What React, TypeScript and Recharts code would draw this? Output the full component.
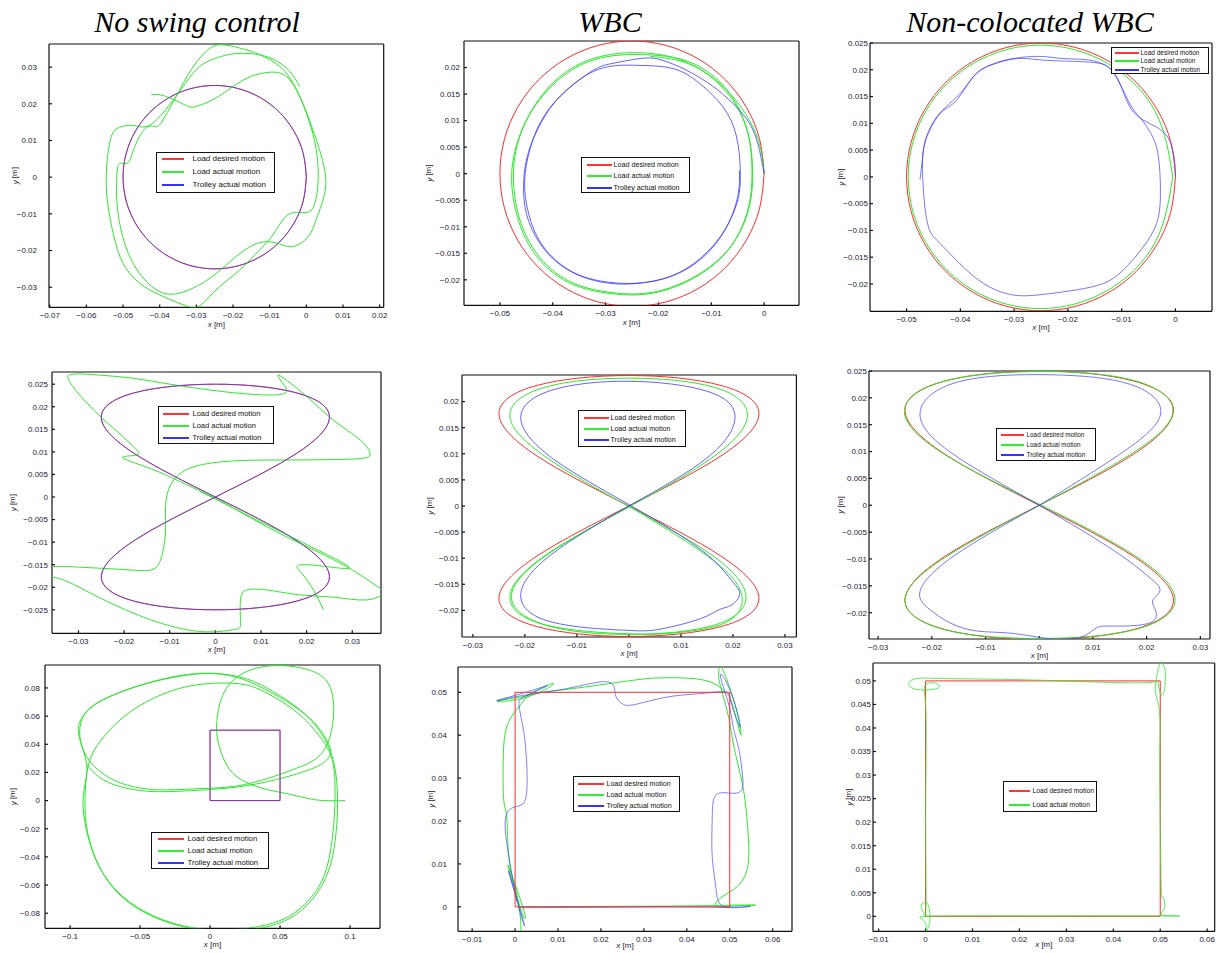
import { ScatterChart, Scatter, XAxis, YAxis, Legend } from "recharts";

type Pt = [number, number];

const titles = ["No swing control", "WBC", "Non-colocated WBC"];
const seriesNames = ["Load desired motion", "Load actual motion", "Trolley actual motion"];

// desired paths
const circleDesired: Pt[] = [
  [0, 0], [-0.00085, 0.00647], [-0.00335, 0.0125], [-0.00732, 0.01768], [-0.0125, 0.02165], [-0.01853, 0.02415],
  [-0.025, 0.025], [-0.03147, 0.02415], [-0.0375, 0.02165], [-0.04268, 0.01768], [-0.04665, 0.0125], [-0.04915, 0.00647],
  [-0.05, 0], [-0.04915, -0.00647], [-0.04665, -0.0125], [-0.04268, -0.01768], [-0.0375, -0.02165], [-0.03147, -0.02415],
  [-0.025, -0.025], [-0.01853, -0.02415], [-0.0125, -0.02165], [-0.00732, -0.01768], [-0.00335, -0.0125], [-0.00085, -0.00647],
  [0, 0],
];
const eightDesired: Pt[] = [
  [0, 0], [0.0177, 0.0096], [0.025, 0.0177], [0.0177, 0.0231], [0, 0.025], [-0.0177, 0.0231], [-0.025, 0.0177],
  [-0.0177, 0.0096], [0, 0], [0.0177, -0.0096], [0.025, -0.0177], [0.0177, -0.0231], [0, -0.025], [-0.0177, -0.0231],
  [-0.025, -0.0177], [-0.0177, -0.0096], [0, 0],
];
const squareDesired: Pt[] = [[0, 0], [0.05, 0], [0.05, 0.05], [0, 0.05], [0, 0]];

// row 1: circle
const p1Load: Pt[] = [
  [-0.0423, 0.0225], [-0.0382, 0.022], [-0.0327, 0.0195], [-0.03, 0.0193], [-0.0255, 0.0211], [-0.02, 0.0247],
  [-0.015, 0.0275], [-0.01, 0.0286], [-0.0055, 0.0275], [-0.0018, 0.022], [0.0018, 0.0129], [0.005, 0.002],
  [0.0048, -0.0053], [0.0027, -0.0116], [0.0005, -0.0162], [-0.0036, -0.0189], [-0.0073, -0.0182], [-0.0109, -0.0176],
  [-0.0145, -0.0185], [-0.0191, -0.0216], [-0.0245, -0.0262], [-0.03, -0.0298], [-0.0355, -0.0318], [-0.04, -0.0312],
  [-0.0445, -0.0275], [-0.0486, -0.0207], [-0.0511, -0.0116], [-0.0518, -0.0035], [-0.0515, 0.0025], [-0.0505, 0.0038],
  [-0.0486, 0.004], [-0.0473, 0.007], [-0.0455, 0.0111], [-0.0432, 0.0138], [-0.0409, 0.0138], [-0.0391, 0.0156],
  [-0.0355, 0.022], [-0.0314, 0.0293], [-0.0273, 0.0343], [-0.0236, 0.0361], [-0.0182, 0.0352], [-0.0127, 0.0334],
  [-0.0073, 0.0302], [-0.0036, 0.0256], [0, 0.0175], [0.0027, 0.0075], [0.0032, -0.0016], [0.0023, -0.0071],
  [0.0009, -0.0094], [-0.0018, -0.0096], [-0.0041, -0.0098], [-0.0064, -0.0116], [-0.0091, -0.0157], [-0.0127, -0.0198],
  [-0.0182, -0.0253], [-0.0236, -0.0298], [-0.0273, -0.0335], [-0.03, -0.0355], [-0.0336, -0.0348], [-0.04, -0.0321],
  [-0.0455, -0.0289], [-0.05, -0.0235], [-0.0527, -0.0153], [-0.0544, -0.0053], [-0.0544, 0.0038], [-0.0532, 0.0111],
  [-0.0509, 0.0136], [-0.0473, 0.0141], [-0.0436, 0.0138], [-0.0391, 0.0175], [-0.0336, 0.0247], [-0.0291, 0.0302],
  [-0.0245, 0.0325], [-0.02, 0.0336], [-0.0145, 0.0336], [-0.0091, 0.0322], [-0.0045, 0.0288], [-0.0018, 0.0247],
];
const p2Load: Pt[] = [
  [0, 0], [-0.001, 0.006], [-0.004, 0.012], [-0.009, 0.0175], [-0.016, 0.0215], [-0.024, 0.0228], [-0.032, 0.0218],
  [-0.039, 0.018], [-0.0445, 0.011], [-0.0476, 0.002], [-0.047, -0.007], [-0.0435, -0.015], [-0.037, -0.0205],
  [-0.029, -0.0226], [-0.021, -0.0225], [-0.013, -0.0195], [-0.0065, -0.014], [-0.003, -0.0065], [-0.0023, 0.001],
  [-0.0033, 0.0085], [-0.0072, 0.016], [-0.014, 0.021], [-0.022, 0.0224], [-0.03, 0.022], [-0.0375, 0.0188],
  [-0.044, 0.0118], [-0.0472, 0.003], [-0.0468, -0.0065], [-0.0432, -0.0148], [-0.0368, -0.0203], [-0.0288, -0.0224],
  [-0.0208, -0.0223], [-0.0128, -0.0192], [-0.0063, -0.0137], [-0.0028, -0.0062], [-0.0022, 0.0012], [-0.0034, 0.0088],
  [-0.0075, 0.0158], [-0.014, 0.0206], [-0.0215, 0.0221],
];
const p2Trolley: Pt[] = [
  [0, 0], [-0.0021, 0.0082], [-0.0059, 0.0132], [-0.0096, 0.0164], [-0.0147, 0.0195], [-0.0197, 0.0215],
  [-0.0235, 0.0217], [-0.0286, 0.0208], [-0.0323, 0.0195], [-0.0374, 0.0157], [-0.0412, 0.0113], [-0.0443, 0.005],
  [-0.0455, -0.0013], [-0.045, -0.0075], [-0.0424, -0.0132], [-0.038, -0.0176], [-0.0323, -0.0201], [-0.026, -0.0208],
  [-0.0191, -0.0198], [-0.0134, -0.017], [-0.0084, -0.012], [-0.0052, -0.0057], [-0.0045, 0], [-0.0052, 0.0069],
  [-0.0078, 0.0126], [-0.0122, 0.017], [-0.0172, 0.0198], [-0.0235, 0.0204], [-0.0286, 0.0203], [-0.0336, 0.0186],
  [-0.0387, 0.0145], [-0.0425, 0.0094], [-0.0447, 0.0031], [-0.0453, -0.0031], [-0.044, -0.0094], [-0.0412, -0.0145],
  [-0.0361, -0.0186], [-0.0298, -0.0204], [-0.0235, -0.0206], [-0.0172, -0.0192], [-0.0115, -0.0157], [-0.0071, -0.0101],
  [-0.0049, -0.0038], [-0.0047, 0.0006],
];
const p3Load: Pt[] = [
  [-0.0005, 0], [-0.0038, 0.0123], [-0.0128, 0.0213], [-0.0251, 0.0246], [-0.0374, 0.0213], [-0.0464, 0.0123],
  [-0.0497, 0], [-0.0464, -0.0123], [-0.0374, -0.0213], [-0.0251, -0.0246], [-0.0128, -0.0213], [-0.0038, -0.0123],
  [-0.0005, 0],
];
const p3Trolley: Pt[] = [
  [0, 0], [-0.0001, 0.0025], [-0.0011, 0.0068], [-0.0035, 0.0093], [-0.006, 0.0106], [-0.0085, 0.0131],
  [-0.0103, 0.0174], [-0.0122, 0.0203], [-0.0147, 0.0213], [-0.0196, 0.0216], [-0.0246, 0.0218], [-0.0277, 0.0221],
  [-0.0308, 0.0219], [-0.0345, 0.0208], [-0.0376, 0.0187], [-0.0407, 0.0143], [-0.0435, 0.0121], [-0.0457, 0.0087],
  [-0.0469, 0.005], [-0.047, 0], [-0.0466, -0.0056], [-0.0457, -0.01], [-0.0438, -0.0124], [-0.0401, -0.0162],
  [-0.0357, -0.0199], [-0.0314, -0.0218], [-0.0277, -0.0222], [-0.0234, -0.0218], [-0.0184, -0.0211], [-0.0134, -0.0199],
  [-0.0097, -0.0174], [-0.006, -0.0131], [-0.0035, -0.0087], [-0.0028, -0.004], [-0.0029, 0.001], [-0.0035, 0.0055],
  [-0.0048, 0.0085], [-0.0065, 0.011], [-0.008, 0.0128], [-0.0095, 0.0157], [-0.011, 0.0186], [-0.0125, 0.0205],
  [-0.016, 0.0218], [-0.0209, 0.0221], [-0.0252, 0.0225], [-0.0302, 0.0221], [-0.0339, 0.0211], [-0.037, 0.0193],
  [-0.0395, 0.0162], [-0.042, 0.0137], [-0.0444, 0.0112], [-0.0463, 0.0075], [-0.047, 0.0037], [-0.0475, -0.0005],
];

// row 2: figure eight
const p4Load: Pt[] = [
  [0.0237, -0.025], [0.0215, -0.0206], [0.019, -0.017], [0.0179, -0.0154], [0.0201, -0.015], [0.0259, -0.0156],
  [0.0292, -0.0154], [0.0223, -0.0117], [0.015, -0.008], [0.0077, -0.0044], [0, -0.0003], [-0.0077, 0.0034],
  [-0.0142, 0.0063], [-0.0203, 0.0087], [-0.0172, 0.0093], [-0.0179, 0.0111], [-0.0215, 0.0145], [-0.0259, 0.0185],
  [-0.0303, 0.0233], [-0.0321, 0.0259], [-0.0314, 0.0272], [-0.0252, 0.027], [-0.0179, 0.0263], [-0.0106, 0.0251],
  [-0.0033, 0.024], [0.004, 0.0231], [0.0113, 0.0226], [0.015, 0.0229], [0.0153, 0.0244], [0.0139, 0.027],
  [0.0201, 0.0222], [0.0259, 0.017], [0.0318, 0.0126], [0.0339, 0.0097], [0.0325, 0.0086], [0.0259, 0.0083],
  [0.015, 0.0082], [0.004, 0.008], [-0.0047, 0.0067], [-0.0091, 0.0038], [-0.0108, -0.0007], [-0.0109, -0.0066],
  [-0.0113, -0.011], [-0.0128, -0.0154], [-0.0164, -0.0163], [-0.0215, -0.016], [-0.0288, -0.0156], [-0.0358, -0.0154],
  [-0.0383, -0.0162], [-0.0361, -0.0176], [-0.0325, -0.0187], [-0.0252, -0.0224], [-0.0142, -0.0272], [-0.0033, -0.0298],
  [0.004, -0.0294], [0.0055, -0.0279], [0.0055, -0.0228], [0.0069, -0.0206], [0.0113, -0.0206], [0.0186, -0.0217],
  [0.0259, -0.0222], [0.0332, -0.0228], [0.0369, -0.0213], [0.0361, -0.0202], [0.0318, -0.0173], [0.0259, -0.0139],
  [0.0186, -0.0103], [0.0113, -0.0066], [0.004, -0.0025], [-0.0033, 0.0012],
];
const p5Load: Pt[] = [
  [0, 0], [0.014, -0.0088], [0.0208, -0.015], [0.0215, -0.0195], [0.0175, -0.0228], [0.009, -0.0243], [0, -0.0245],
  [-0.016, -0.0228], [-0.0229, -0.0174], [-0.016, -0.0094], [0.0003, 0], [0.0162, 0.0094], [0.0228, 0.0174],
  [0.0162, 0.0228], [0, 0.0245], [-0.016, 0.0228], [-0.0229, 0.0174], [-0.016, 0.0094], [0.0002, -0.0002],
  [0.0158, -0.0093], [0.0225, -0.0172], [0.0165, -0.0228], [0, -0.0246], [-0.0158, -0.0229], [-0.0226, -0.0174],
  [-0.0158, -0.0094], [0.0003, 0],
];
const p5Trolley: Pt[] = [
  [0.0003, 0.0002], [0.015, 0.0092], [0.0204, 0.017], [0.015, 0.022], [0, 0.0239], [-0.0148, 0.0222], [-0.0208, 0.017],
  [-0.0148, 0.0092], [0.0003, 0.0001], [0.014, -0.0085], [0.0195, -0.014], [0.0213, -0.0168], [0.0197, -0.019],
  [0.0175, -0.0198], [0.0137, -0.0216], [0.006, -0.0236], [-0.001, -0.0238], [-0.015, -0.0222], [-0.0208, -0.017],
  [-0.0148, -0.0092], [0.0003, 0.0002],
];
const p6Load: Pt[] = [
  [0, 0], [0.0172, 0.0096], [0.0249, 0.0175], [0.0178, 0.0232], [0.0003, 0.0249], [-0.0173, 0.0232], [-0.0251, 0.0177],
  [-0.018, 0.0097], [0.0002, 0.0001], [0.018, -0.0095], [0.0253, -0.0176], [0.018, -0.0231], [0.0003, -0.0248],
  [-0.0175, -0.0232], [-0.025, -0.0177], [-0.0175, -0.0097], [0, 0],
];
const p6Trolley: Pt[] = [
  [0, 0], [0.015, 0.0095], [0.0226, 0.017], [0.017, 0.0225], [0.002, 0.0243], [-0.015, 0.023], [-0.0222, 0.0172],
  [-0.016, 0.0095], [0, 0], [0.014, -0.0085], [0.02, -0.013], [0.0225, -0.0157], [0.0212, -0.0176], [0.0216, -0.0194],
  [0.0206, -0.0219], [0.014, -0.0225], [0.0107, -0.0228], [0.0082, -0.0244], [0.0045, -0.0249], [0.0007, -0.0247],
  [-0.0055, -0.0238], [-0.0117, -0.0234], [-0.0166, -0.0219], [-0.0204, -0.0194], [-0.0222, -0.016], [-0.016, -0.0095],
  [0, 0],
];

// row 3: square
const p7Load: Pt[] = [
  [0.0964, 0], [0.0786, 0.0002], [0.0643, 0.0028], [0.05, 0.0059], [0.0357, 0.0092], [0.0214, 0.0154], [0.0119, 0.0253],
  [0.006, 0.0407], [0.0048, 0.0561], [0.0083, 0.0727], [0.0167, 0.0857], [0.031, 0.0935], [0.0476, 0.0959],
  [0.0643, 0.0944], [0.0786, 0.0892], [0.0869, 0.0774], [0.0881, 0.0585], [0.0845, 0.0419], [0.0762, 0.0301],
  [0.0619, 0.023], [0.0452, 0.017], [0.0286, 0.0123], [0.0119, 0.0095], [-0.0119, 0.0083], [-0.0357, 0.0076],
  [-0.0548, 0.0099], [-0.0714, 0.0159], [-0.0857, 0.0277], [-0.0924, 0.0419], [-0.0924, 0.0549], [-0.0857, 0.0656],
  [-0.069, 0.075], [-0.0452, 0.0833], [-0.0214, 0.0888], [0.0024, 0.0904], [0.0262, 0.0864], [0.0452, 0.0774],
  [0.0643, 0.0644], [0.0786, 0.049], [0.0869, 0.0324], [0.0905, 0.0135], [0.091, -0.0078], [0.0893, -0.0291],
  [0.0845, -0.0504], [0.0738, -0.0693], [0.0571, -0.0836], [0.0357, -0.0907], [0.0119, -0.093], [-0.0119, -0.0911],
  [-0.0381, -0.0836], [-0.0619, -0.0693], [-0.0786, -0.048], [-0.0876, -0.022], [-0.0893, 0.0017], [-0.0869, 0.0253],
  [-0.0786, 0.0419], [-0.0643, 0.0573], [-0.0452, 0.0703], [-0.0214, 0.0798], [0.0024, 0.0833], [0.0262, 0.0821],
  [0.0452, 0.0738], [0.0643, 0.0608], [0.081, 0.0419], [0.0881, 0.0253], [0.0893, 0.004], [0.0881, -0.0196],
  [0.0833, -0.048], [0.0726, -0.0682], [0.056, -0.0824], [0.0345, -0.0895], [0.0107, -0.0918], [-0.0131, -0.0902],
  [-0.0393, -0.0824], [-0.0631, -0.0675], [-0.0798, -0.0457], [-0.0886, -0.0196], [-0.0905, 0.004], [-0.0881, 0.0253],
  [-0.0938, 0.0466], [-0.091, 0.0596], [-0.081, 0.0691], [-0.0619, 0.0779], [-0.0381, 0.085], [-0.0119, 0.0897],
  [0.0119, 0.0892], [0.0333, 0.0821], [0.0548, 0.0703], [0.0738, 0.0561], [0.0845, 0.0407], [0.0857, 0.0324],
  [0.0786, 0.0253], [0.0595, 0.0182], [0.0357, 0.0123], [0.0119, 0.0088], [-0.0167, 0.0069], [-0.0405, 0.0064],
  [-0.0595, 0.0088], [-0.0762, 0.0147], [-0.0881, 0.0253],
];
const p8Load: Pt[] = [
  [0.0009, 0], [0.0199, 0.0001], [0.0393, 0.0002], [0.0509, 0.0004], [0.056, 0.0004], [0.0509, 0.0002], [0.0467, 0.0002],
  [0.0482, 0.0023], [0.0517, 0.0047], [0.054, 0.0085], [0.0544, 0.0151], [0.0536, 0.0245], [0.0525, 0.0307],
  [0.0509, 0.0377], [0.0498, 0.0439], [0.0482, 0.0501], [0.0474, 0.054], [0.048, 0.0559], [0.0498, 0.0516],
  [0.0517, 0.0454], [0.0526, 0.04], [0.0509, 0.0462], [0.049, 0.0501], [0.0455, 0.0524], [0.0401, 0.0533],
  [0.0323, 0.0533], [0.0238, 0.0523], [0.0137, 0.0509], [0.0059, 0.0499], [0.0012, 0.0489], [-0.0042, 0.0479],
  [0.0028, 0.0489], [0.009, 0.052], [0.0043, 0.0501], [0.0012, 0.047], [-0.0011, 0.0439], [-0.0025, 0.0392],
  [-0.0028, 0.0314], [-0.0026, 0.0245], [-0.002, 0.0214], [-0.0017, 0.0151], [-0.0011, 0.0089], [0.0001, 0.0043],
  [0.0012, -0.0004], [0.0024, -0.0027], [0.0009, 0.0027], [-0.0017, 0.0097], [0.0005, 0.0019], [0.0014, -0.0058],
];
const p8Trolley: Pt[] = [
  [0.0012, -0.0002], [0.0199, -0.0001], [0.0393, 0], [0.0509, -0.0001], [0.0548, 0.0001], [0.0502, -0.0002],
  [0.0474, 0.0012], [0.0467, 0.005], [0.0459, 0.012], [0.0459, 0.0198], [0.0463, 0.0252], [0.0486, 0.0266],
  [0.0525, 0.0269], [0.0529, 0.0314], [0.0521, 0.0369], [0.0509, 0.0415], [0.0498, 0.047], [0.0478, 0.054],
  [0.0502, 0.0501], [0.0525, 0.0419], [0.0505, 0.047], [0.049, 0.0501], [0.0432, 0.0497], [0.0354, 0.0489],
  [0.0276, 0.0471], [0.0249, 0.0474], [0.0234, 0.0493], [0.0218, 0.0524], [0.0137, 0.0512], [0.0059, 0.0499],
  [-0.0003, 0.0489], [-0.0042, 0.0481], [0.0028, 0.0501], [0.0075, 0.0515], [0.0028, 0.0493], [0.0009, 0.0474],
  [0.0016, 0.0431], [0.0024, 0.0377], [0.0028, 0.0307], [0.0026, 0.026], [0.0014, 0.0237], [-0.0015, 0.0225],
  [-0.0023, 0.0182], [-0.0015, 0.012], [-0.0003, 0.005], [0.0009, -0.0004], [0.0022, -0.0043], [-0.0003, 0.0043],
  [-0.0015, 0.0082], [0.0005, 0.0012],
];
const p9Load: Pt[] = [
  [0, 0], [-0.0009, 0.0018], [-0.0006, 0.0028], [0.0005, 0.0025], [0.0009, -0.0011], [0.0001, -0.0032],
  [-0.0002, -0.0011], [0.0003, 0], [0.0179, 0.0001], [0.0392, 0.0001], [0.0491, 0.0001], [0.0541, 0.0001],
  [0.0506, 0.0002], [0.0509, 0.0018], [0.0506, 0.0039], [0.0502, 0.006], [0.05, 0.0202], [0.0499, 0.0343],
  [0.0499, 0.0428], [0.0491, 0.0471], [0.0491, 0.0499], [0.0499, 0.0535], [0.0509, 0.0528], [0.0511, 0.0499],
  [0.0506, 0.0471], [0.0499, 0.0478], [0.0495, 0.0497], [0.0463, 0.0496], [0.0321, 0.0499], [0.0179, 0.0503],
  [0.0037, 0.0505], [-0.002, 0.0505], [-0.0036, 0.0494], [-0.002, 0.0482], [0.0016, 0.0482], [0.003, 0.0489],
  [0.0016, 0.0496], [-0.0002, 0.0489], [0, 0.045], [0.0001, 0.0343], [0, 0.0202], [0.0001, 0.006], [0, 0],
];

// tick labels
const ticksA = [-0.07, -0.06, -0.05, -0.04, -0.03, -0.02, -0.01, 0, 0.01, 0.02];
const ticksB = [-0.05, -0.04, -0.03, -0.02, -0.01, 0];
const ticksC = [-0.03, -0.02, -0.01, 0, 0.01, 0.02, 0.03];
const ticksD = [-0.1, -0.05, 0, 0.05, 0.1];
const ticksE = [-0.01, 0, 0.01, 0.02, 0.03, 0.04, 0.05, 0.06];
const yTicks10 = [-0.03, -0.02, -0.01, 0, 0.01, 0.02, 0.03];
const yTicks5 = [-0.02, -0.015, -0.01, -0.005, 0, 0.005, 0.01, 0.015, 0.02];
const yTicks5b = [-0.02, -0.015, -0.01, -0.005, 0, 0.005, 0.01, 0.015, 0.02, 0.025];
const yTicks5c = [-0.025, -0.02, -0.015, -0.01, -0.005, 0, 0.005, 0.01, 0.015, 0.02, 0.025];
const yTicks20 = [-0.08, -0.06, -0.04, -0.02, 0, 0.02, 0.04, 0.06, 0.08];
const yTicksSq = [0, 0.01, 0.02, 0.03, 0.04, 0.05];
const yTicksSq5 = [0, 0.005, 0.01, 0.015, 0.02, 0.025, 0.03, 0.035, 0.04, 0.045, 0.05];

const RED = "#ff2a2a";
const GREEN = "#2ee62e";
const BLUE = "#3c3cff";
const LEGEND_COLORS = ["#ff0000", "#00e600", "#0000ff"];
const SANS = "'Liberation Sans', Arial, sans-serif";

type Series = { data: Pt[]; color: string; opacity?: number; curve?: "natural" | "linear" };
type LegendCfg = { left: number; top: number; width: number; height: number; fontSize: number; c0: number; dy: number; sx: number; sw: number; tx: number; n: number };
type PanelCfg = {
  box: [number, number, number, number];
  xDomain: [number, number];
  yDomain: [number, number];
  xTicks: number[];
  yTicks: number[];
  series: Series[];
  legend: LegendCfg;
  gap: number;
  yLab: number;
  xLab: number;
};

const red = (d: Pt[]): Series => ({ data: d, color: RED, curve: d === squareDesired ? "linear" : "natural" });
const green = (d: Pt[]): Series => ({ data: d, color: GREEN });
const blue = (d: Pt[], opacity = 0.75): Series => ({ data: d, color: BLUE, opacity, curve: d === squareDesired ? "linear" : "natural" });

const panels: PanelCfg[] = [
  {
    box: [49.3, 44.3, 384, 307.7], xDomain: [-0.0702, 0.0211], yDomain: [-0.0355, 0.0363], xTicks: ticksA, yTicks: yTicks10,
    series: [red(circleDesired), green(p1Load), blue(circleDesired, 0.7)],
    legend: { left: 156, top: 152, width: 119, height: 41, fontSize: 8, c0: 6.5, dy: 12.8, sx: 5, sw: 22, tx: 37, n: 3 }, gap: 12, yLab: 34, xLab: 20,
  },
  {
    box: [464, 40.7, 799, 305], xDomain: [-0.0568, 0.0066], yDomain: [-0.0248, 0.025], xTicks: ticksB, yTicks: yTicks5,
    series: [red(circleDesired), green(p2Load), blue(p2Trolley, 0.8)],
    legend: { left: 581, top: 157, width: 109, height: 36, fontSize: 7.2, c0: 7, dy: 11.5, sx: 5, sw: 25, tx: 33, n: 3 }, gap: 4, yLab: 35, xLab: 20,
  },
  {
    box: [870.3, 42.7, 1212.3, 311], xDomain: [-0.0568, 0.0068], yDomain: [-0.0251, 0.025], xTicks: ticksB, yTicks: yTicks5b,
    series: [red(circleDesired), green(p3Load), blue(p3Trolley, 0.7)],
    legend: { left: 1111, top: 47, width: 98, height: 27, fontSize: 6.5, c0: 5, dy: 8.5, sx: 3, sw: 24, tx: 30, n: 3 }, gap: 2, yLab: 29, xLab: 19,
  },
  {
    box: [51.7, 372, 380.7, 633.3], xDomain: [-0.0358, 0.0363], yDomain: [-0.0302, 0.0277], xTicks: ticksC, yTicks: yTicks5c,
    series: [red(eightDesired), green(p4Load), blue(eightDesired, 0.7)],
    legend: { left: 158, top: 406, width: 116, height: 38, fontSize: 7.5, c0: 7, dy: 12, sx: 4, sw: 26, tx: 35, n: 3 }, gap: 4, yLab: 39, xLab: 19,
  },
  {
    box: [462.3, 374.7, 796.7, 636.7], xDomain: [-0.0321, 0.0322], yDomain: [-0.0251, 0.0251], xTicks: ticksC, yTicks: yTicks5,
    series: [red(eightDesired), green(p5Load), blue(p5Trolley, 0.8)],
    legend: { left: 578, top: 410, width: 108, height: 37, fontSize: 7.1, c0: 7, dy: 11, sx: 5, sw: 25, tx: 33, n: 3 }, gap: 3, yLab: 32, xLab: 19,
  },
  {
    box: [869, 371.3, 1210, 639.3], xDomain: [-0.0317, 0.0318], yDomain: [-0.0249, 0.025], xTicks: ticksC, yTicks: yTicks5b,
    series: [red(eightDesired), green(p6Load), blue(p6Trolley, 0.7)],
    legend: { left: 996, top: 428, width: 100, height: 33, fontSize: 6.4, c0: 6, dy: 10, sx: 4, sw: 23, tx: 31, n: 3 }, gap: 2, yLab: 29, xLab: 19,
  },
  {
    box: [45, 665, 380, 928.3], xDomain: [-0.1179, 0.1214], yDomain: [-0.0907, 0.0963], xTicks: ticksD, yTicks: yTicks20,
    series: [red(squareDesired), green(p7Load), blue(squareDesired, 0.7)],
    legend: { left: 151, top: 832, width: 118, height: 37, fontSize: 7.7, c0: 6, dy: 12, sx: 6, sw: 26, tx: 37, n: 3 }, gap: 5, yLab: 32, xLab: 19,
  },
  {
    box: [457.7, 666.7, 791.7, 931], xDomain: [-0.0133, 0.0645], yDomain: [-0.0057, 0.0559], xTicks: ticksE, yTicks: yTicksSq,
    series: [green(p8Load), blue(p8Trolley, 0.65), red(squareDesired)],
    legend: { left: 573, top: 776, width: 107, height: 36, fontSize: 7.1, c0: 7, dy: 11, sx: 4, sw: 26, tx: 34, n: 3 }, gap: 11, yLab: 27, xLab: 17,
  },
  {
    box: [873.3, 663.3, 1215, 931.7], xDomain: [-0.0112, 0.0616], yDomain: [-0.0032, 0.0538], xTicks: ticksE, yTicks: yTicksSq5,
    series: [red(squareDesired), { ...green(p9Load), opacity: 0.8 }],
    legend: { left: 1003, top: 781, width: 94, height: 31, fontSize: 6.8, c0: 9, dy: 14, sx: 5, sw: 21, tx: 30, n: 2 }, gap: 2, yLab: 24, xLab: 16,
  },
];

const titleCenters = [197, 610, 1030];

const fmt = (v: number) => {
  if (Math.abs(v) < 1e-12) return "0";
  return String(Number(v.toFixed(4))).replace("-", "\u2212");
};

const toPts = (d: Pt[]) => d.map(([x, y]) => ({ x, y }));
const noDot = () => <g />;
const axisLine = { stroke: "#111", strokeWidth: 1.2 };
const tickStyle = { fontSize: 8, fill: "#223", fontFamily: SANS };

function XTitle(props: any) {
  const vb = props.viewBox || { x: 0, y: 0, width: 0 };
  return (
    <text x={vb.x + vb.width / 2} y={vb.y + props.dy} textAnchor="middle" fontSize={8} fontFamily={SANS} fill="#223">
      <tspan fontStyle="italic">x</tspan> [m]
    </text>
  );
}

function YTitle(props: any) {
  const vb = props.viewBox || { x: 0, y: 0, width: 0, height: 0 };
  const cx = vb.x + vb.width - props.dx;
  const cy = vb.y + vb.height / 2;
  return (
    <text x={cx} y={cy} transform={`rotate(-90 ${cx} ${cy})`} textAnchor="middle" dominantBaseline="central" fontSize={8} fontFamily={SANS} fill="#223">
      <tspan fontStyle="italic">y</tspan> [m]
    </text>
  );
}

function LegendBox({ cfg }: { cfg: LegendCfg }) {
  return (
    <div style={{ position: "relative", width: cfg.width, height: cfg.height, boxSizing: "border-box", border: "1.5px solid #111", background: "#fff", fontFamily: SANS, fontSize: cfg.fontSize, color: "#111" }}>
      {seriesNames.slice(0, cfg.n).map((name, i) => (
        <div key={name} style={{ position: "absolute", left: 0, top: cfg.c0 + i * cfg.dy - 6, width: cfg.width - 3, height: 12 }}>
          <svg width={cfg.sw + cfg.sx} height={12} style={{ position: "absolute", left: 0, top: 0 }}>
            <line x1={cfg.sx} x2={cfg.sx + cfg.sw} y1={6} y2={6} stroke={LEGEND_COLORS[i]} strokeWidth={1.6} />
          </svg>
          <span style={{ position: "absolute", left: cfg.tx - 1.5, top: 0, lineHeight: "12px", whiteSpace: "nowrap" }}>{name}</span>
        </div>
      ))}
    </div>
  );
}

function Panel({ cfg }: { cfg: PanelCfg }) {
  const [l, t, r, b] = cfg.box;
  const left = l - 60;
  const top = t - 10;
  const width = r - l + 70;
  const height = b - t + 50;
  return (
    <div style={{ position: "absolute", left, top }}>
      <ScatterChart width={width} height={height} margin={{ top: 9, right: 9, bottom: 0, left: 0 }}>
        <XAxis xAxisId="b" type="number" dataKey="x" domain={cfg.xDomain} ticks={cfg.xTicks} interval={0} allowDataOverflow
          height={40} tickSize={-3} tickMargin={8} tickFormatter={fmt} tick={tickStyle} axisLine={axisLine} tickLine={axisLine}
          label={<XTitle dy={cfg.xLab} />} />
        <XAxis xAxisId="t" orientation="top" type="number" dataKey="x" domain={cfg.xDomain} ticks={cfg.xTicks} interval={0} allowDataOverflow
          height={1} tickSize={-3} tick={false} axisLine={axisLine} tickLine={axisLine} />
        <YAxis yAxisId="l" type="number" dataKey="y" domain={cfg.yDomain} ticks={cfg.yTicks} interval={0} allowDataOverflow
          width={60} tickSize={-3} tickMargin={cfg.gap + 3} tickFormatter={fmt} tick={tickStyle} axisLine={axisLine} tickLine={axisLine}
          label={<YTitle dx={cfg.yLab} />} />
        <YAxis yAxisId="r" orientation="right" type="number" dataKey="y" domain={cfg.yDomain} ticks={cfg.yTicks} interval={0} allowDataOverflow
          width={1} tickSize={-3} tick={false} axisLine={axisLine} tickLine={axisLine} />
        {/* keeps the top and right axes (the box frame) in play */}
        <Scatter xAxisId="t" yAxisId="r" data={toPts(cfg.series[0].data)} fill="none" shape={noDot} legendType="none" isAnimationActive={false} />
        {cfg.series.map((s, i) => (
          <Scatter key={i} xAxisId="b" yAxisId="l" data={toPts(s.data)} fill="none" shape={noDot}
            line={{ stroke: s.color, strokeWidth: 1, strokeOpacity: s.opacity ?? 1 }}
            lineType="joint" lineJointType={s.curve ?? "natural"} isAnimationActive={false} />
        ))}
        <Legend layout="vertical" align="center" verticalAlign="middle"
          wrapperStyle={{ left: cfg.legend.left - left, top: cfg.legend.top - top, width: cfg.legend.width, height: cfg.legend.height }}
          content={() => <LegendBox cfg={cfg.legend} />} />
      </ScatterChart>
    </div>
  );
}

export default function App() {
  return (
    <div style={{ position: "absolute", left: 0, top: 0, width: 1219, height: 953, background: "#fff", overflow: "hidden" }}>
      {titles.map((tt, i) => (
        <div key={tt} style={{ position: "absolute", left: titleCenters[i] - 200, top: 7, width: 400, textAlign: "center",
          fontFamily: "'Liberation Serif', 'Times New Roman', serif", fontStyle: "italic", fontSize: 30, lineHeight: "30px", color: "#000" }}>
          {tt}
        </div>
      ))}
      {panels.map((p, i) => (
        <Panel key={i} cfg={p} />
      ))}
    </div>
  );
}
